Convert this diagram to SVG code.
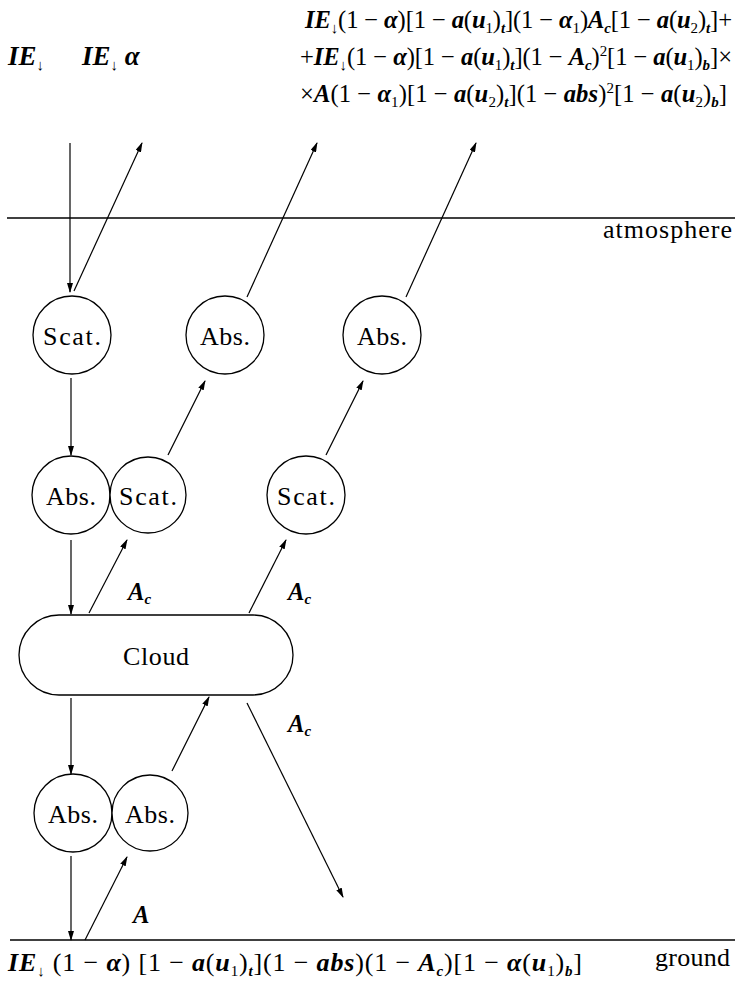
<svg xmlns="http://www.w3.org/2000/svg" width="735" height="987" viewBox="0 0 735 987">
<style>
text{font-family:"Liberation Serif","Times New Roman",serif;fill:#000}
.m{font-size:24.6px}
.v{font-weight:bold;font-style:italic}
.sb{font-size:15px}
.ar2{font-weight:bold}
.lbl{font-size:26px;text-anchor:middle}
.rule{stroke:#000;stroke-width:1.5;fill:none}
.node{fill:#fff;stroke:#000;stroke-width:1.3}
.ar{stroke:#000;stroke-width:1.2;fill:none;marker-end:url(#ah)}
</style>
<defs>
<marker id="ah" markerUnits="userSpaceOnUse" markerWidth="10" markerHeight="6" refX="9" refY="3" orient="auto">
<path d="M0,0 L10,3 L0,6 z" fill="#000"/>
</marker>
</defs>
<rect width="735" height="987" fill="#fff"/>

<g id="layers">
<line class="rule" x1="7" y1="218" x2="735" y2="218"/>
<line class="rule" x1="10" y1="940" x2="735" y2="940"/>
<text x="603" y="238" font-size="26" textLength="129">atmosphere</text>
<text x="655" y="966" font-size="26" textLength="75">ground</text>
</g>

<g id="top-texts">
<text x="8" y="65" font-size="27"><tspan class="v">IE</tspan><tspan class="sb ar2" dy="5">↓</tspan></text>
<text x="82" y="65" font-size="27"><tspan class="v">IE</tspan><tspan class="sb ar2" dy="5">↓</tspan><tspan dy="-5" class="v"> α</tspan></text>
<text class="m" x="305" y="28" textLength="427"><tspan class="v">IE</tspan><tspan class="sb ar2" dy="5">↓</tspan><tspan dy="-5">(1 − </tspan><tspan class="v">α</tspan><tspan>)[1 − </tspan><tspan class="v">a</tspan><tspan>(</tspan><tspan class="v">u</tspan><tspan class="sb" dy="5">1</tspan><tspan dy="-5">)</tspan><tspan class="sb v" dy="5">t</tspan><tspan dy="-5">](1 − </tspan><tspan class="v">α</tspan><tspan class="sb" dy="5">1</tspan><tspan dy="-5">)</tspan><tspan class="v">A</tspan><tspan class="sb v" dy="5">c</tspan><tspan dy="-5">[1 − </tspan><tspan class="v">a</tspan><tspan>(</tspan><tspan class="v">u</tspan><tspan class="sb" dy="5">2</tspan><tspan dy="-5">)</tspan><tspan class="sb v" dy="5">t</tspan><tspan dy="-5">]+</tspan></text>
<text class="m" x="300" y="65" textLength="432"><tspan>+</tspan><tspan class="v">IE</tspan><tspan class="sb ar2" dy="5">↓</tspan><tspan dy="-5">(1 − </tspan><tspan class="v">α</tspan><tspan>)[1 − </tspan><tspan class="v">a</tspan><tspan>(</tspan><tspan class="v">u</tspan><tspan class="sb" dy="5">1</tspan><tspan dy="-5">)</tspan><tspan class="sb v" dy="5">t</tspan><tspan dy="-5">](1 − </tspan><tspan class="v">A</tspan><tspan class="sb v" dy="5">c</tspan><tspan dy="-5">)</tspan><tspan class="sb" dy="-9">2</tspan><tspan dy="9">[1 − </tspan><tspan class="v">a</tspan><tspan>(</tspan><tspan class="v">u</tspan><tspan class="sb" dy="5">1</tspan><tspan dy="-5">)</tspan><tspan class="sb v" dy="5">b</tspan><tspan dy="-5">]×</tspan></text>
<text class="m" x="300" y="102" textLength="427"><tspan>×</tspan><tspan class="v">A</tspan><tspan>(1 − </tspan><tspan class="v">α</tspan><tspan class="sb" dy="5">1</tspan><tspan dy="-5">)[1 − </tspan><tspan class="v">a</tspan><tspan>(</tspan><tspan class="v">u</tspan><tspan class="sb" dy="5">2</tspan><tspan dy="-5">)</tspan><tspan class="sb v" dy="5">t</tspan><tspan dy="-5">](1 − </tspan><tspan class="v">abs</tspan><tspan>)</tspan><tspan class="sb" dy="-9">2</tspan><tspan dy="9">[1 − </tspan><tspan class="v">a</tspan><tspan>(</tspan><tspan class="v">u</tspan><tspan class="sb" dy="5">2</tspan><tspan dy="-5">)</tspan><tspan class="sb v" dy="5">b</tspan><tspan dy="-5">]</tspan></text>
</g>

<g id="bottom-text">
<text x="8" y="971" font-size="26" textLength="574"><tspan class="v">IE</tspan><tspan class="sb ar2" dy="5">↓</tspan><tspan dy="-5"> (1 − </tspan><tspan class="v">α</tspan><tspan>) [1 − </tspan><tspan class="v">a</tspan><tspan>(</tspan><tspan class="v">u</tspan><tspan class="sb" dy="5">1</tspan><tspan dy="-5">)</tspan><tspan class="sb v" dy="5">t</tspan><tspan dy="-5">](1 − </tspan><tspan class="v">abs</tspan><tspan>)(1 − </tspan><tspan class="v">A</tspan><tspan class="sb v" dy="5">c</tspan><tspan dy="-5">)[1 − </tspan><tspan class="v">α</tspan><tspan>(</tspan><tspan class="v">u</tspan><tspan class="sb" dy="5">1</tspan><tspan dy="-5">)</tspan><tspan class="sb v" dy="5">b</tspan><tspan dy="-5">]</tspan></text>
</g>

<g id="connectors">
<line class="ar" x1="70" y1="143" x2="70" y2="292"/>
<line class="ar" x1="74" y1="291" x2="142" y2="143"/>
<line class="ar" x1="247" y1="297" x2="317" y2="143"/>
<line class="ar" x1="406" y1="297" x2="476" y2="143"/>
<line class="ar" x1="71" y1="378" x2="71" y2="455"/>
<line class="ar" x1="168" y1="455" x2="205" y2="381"/>
<line class="ar" x1="326" y1="455" x2="363" y2="381"/>
<line class="ar" x1="71" y1="540" x2="71" y2="614"/>
<line class="ar" x1="89" y1="613" x2="127" y2="540"/>
<line class="ar" x1="249" y1="613" x2="286" y2="540"/>
<line class="ar" x1="71" y1="698" x2="71" y2="774"/>
<line class="ar" x1="172" y1="771" x2="209" y2="697"/>
<line class="ar" x1="247" y1="703" x2="343" y2="897"/>
<line class="ar" x1="71" y1="856" x2="71" y2="940"/>
<line class="ar" x1="85" y1="940" x2="127" y2="857"/>
</g>

<g id="edge-labels">
<text class="m" x="128" y="600"><tspan class="v">A</tspan><tspan class="sb v" dy="4">c</tspan></text>
<text class="m" x="288" y="600"><tspan class="v">A</tspan><tspan class="sb v" dy="4">c</tspan></text>
<text class="m" x="288" y="732"><tspan class="v">A</tspan><tspan class="sb v" dy="4">c</tspan></text>
<text class="m" x="133" y="923"><tspan class="v">A</tspan></text>
</g>

<g id="scat1"><circle class="node" cx="72" cy="335" r="39"/><text class="lbl" x="72" y="345" textLength="58">Scat.</text></g>
<g id="abs1"><circle class="node" cx="225" cy="335" r="39"/><text class="lbl" x="225" y="345" textLength="50">Abs.</text></g>
<g id="abs2"><circle class="node" cx="382" cy="335" r="39"/><text class="lbl" x="382" y="345" textLength="50">Abs.</text></g>
<g id="abs3"><circle class="node" cx="71" cy="495" r="39"/><text class="lbl" x="71" y="505" textLength="50">Abs.</text></g>
<g id="scat2"><circle class="node" cx="148" cy="495" r="38"/><text class="lbl" x="148" y="505" textLength="58">Scat.</text></g>
<g id="scat3"><circle class="node" cx="306" cy="495" r="39"/><text class="lbl" x="306" y="505" textLength="58">Scat.</text></g>
<g id="cloud"><rect class="node" x="19" y="615" width="274" height="80" rx="40" ry="40"/><text class="lbl" x="156" y="665" textLength="66">Cloud</text></g>
<g id="abs4"><circle class="node" cx="73" cy="813" r="39"/><text class="lbl" x="73" y="823" textLength="50">Abs.</text></g>
<g id="abs5"><circle class="node" cx="150" cy="813" r="38"/><text class="lbl" x="150" y="823" textLength="50">Abs.</text></g>
</svg>
